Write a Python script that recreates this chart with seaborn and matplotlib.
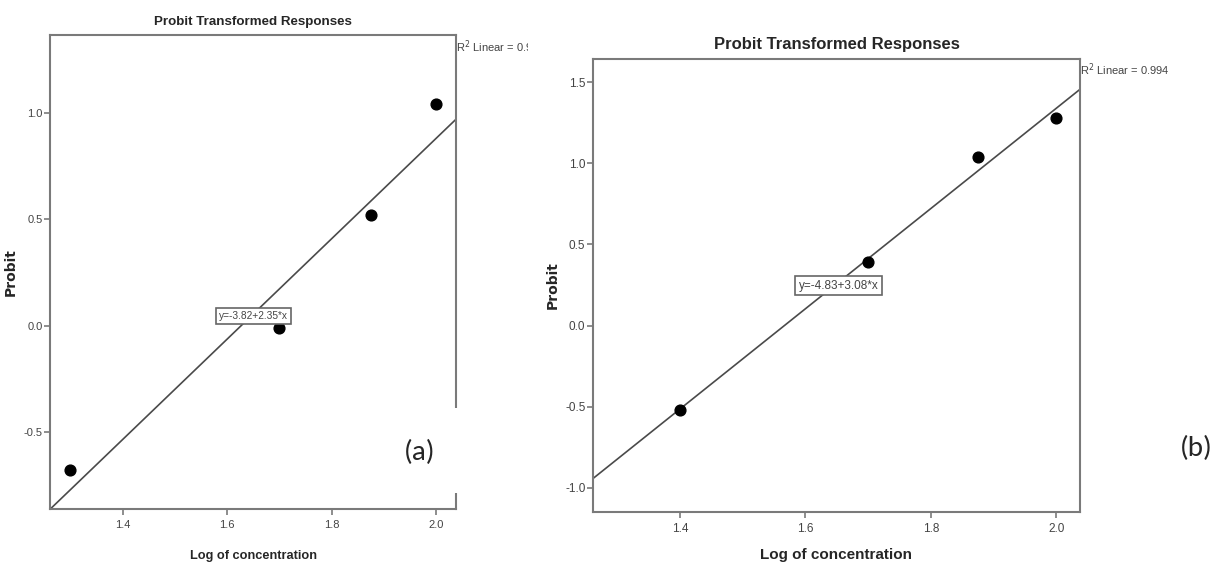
import matplotlib
matplotlib.use("Agg")
import matplotlib.pyplot as plt
from matplotlib.patches import Rectangle
from matplotlib.transforms import Bbox, TransformedBbox
from matplotlib import font_manager
import numpy as np
import pandas as pd
import seaborn as sns

# dados
log_conc_a = [1.3, 1.7, 1.875, 2.0]
probit_a = [-0.68, -0.01, 0.52, 1.04]
log_conc_b = [1.4, 1.7, 1.875, 2.0]
probit_b = [-0.52, 0.39, 1.04, 1.28]

eq_a = "y=-3.82+2.35*x"
eq_b = "y=-4.83+3.08*x"
r2_a = "R$^2$ Linear = 0.959"
r2_b = "R$^2$ Linear = 0.994"

xticks = [1.4, 1.6, 1.8, 2.0]
yticks_a = [-0.5, 0.0, 0.5, 1.0]
yticks_b = [-1.0, -0.5, 0.0, 0.5, 1.0, 1.5]

sns.set_theme(style="white")
installed = {f.name for f in font_manager.fontManager.ttflist}
narrow = "Liberation Sans Narrow" if "Liberation Sans Narrow" in installed else "Liberation Sans"
plt.rcParams['font.family'] = ["Liberation Sans", "DejaVu Sans"]

fig = plt.figure(figsize=(12.26, 5.62), dpi=100)
ax_a = fig.add_axes([0.0408, 0.0943, 0.3312, 0.8434])
ax_b = fig.add_axes([0.4837, 0.0890, 0.3972, 0.8060])

spine_col = "#7a7a7a"
line_col = "#4a4a4a"


def painel(ax, x, y, ylim, yticks, eq, eq_pos, r2, fs, xpad):
    # fs = tamanhos de fonte (ticks, titulo, xlabel, equacao)
    ax.set_xlim(1.261, 2.038)
    ax.set_ylim(*ylim)
    df = pd.DataFrame({"x": x, "y": y})
    sns.regplot(data=df, x="x", y="y", ax=ax, ci=None, truncate=False,
                scatter_kws=dict(s=60, color="black", edgecolor="black", alpha=1, zorder=3),
                line_kws=dict(color=line_col, lw=1.2))
    ax.set_xlim(1.261, 2.038)
    ax.set_ylim(*ylim)
    ax.set_xticks(xticks)
    ax.set_xticklabels([f"{v:.1f}" for v in xticks], family=narrow)
    ax.set_yticks(yticks)
    ax.set_yticklabels([f"{v:.1f}" for v in yticks], family=narrow)
    ax.tick_params(axis="both", direction="out", length=4, width=1.2,
                   color=spine_col, labelsize=fs[0], labelcolor="#444444",
                   bottom=True, left=True, pad=4)
    ax.tick_params(axis="y", pad=1.5)
    for s in ax.spines.values():
        s.set_color(spine_col)
        s.set_linewidth(1.5)
    ax.set_title("Probit Transformed Responses", family=narrow,
                 fontsize=fs[1], fontweight="bold", pad=7)
    ax.set_xlabel("Log of concentration", fontsize=fs[2], fontweight="bold", labelpad=xpad)
    ax.set_ylabel("Probit", fontsize=10, fontweight="bold", family="DejaVu Sans", labelpad=4)
    ax.text(eq_pos[0], eq_pos[1], eq, family=narrow, fontsize=fs[3], color="#444444",
            ha="center", va="center", zorder=4,
            bbox=dict(boxstyle="square,pad=0.3", fc="white", ec="#666666", lw=1.2))
    t = ax.text(1.0, 0.976, r2, transform=ax.transAxes, family=narrow,
                fontsize=8, color="#444444", ha="left", va="center")
    return t


t_a = painel(ax_a, log_conc_a, probit_a, (-0.861, 1.366), yticks_a,
             eq_a, (1.65, 0.047), r2_a, (8, 9.6, 9.2, 7.3), 14.5)
# texto cortado na borda direita do painel (a)
t_a.set_clip_box(TransformedBbox(Bbox([[0, 0], [528 / 1226, 1]]), fig.transFigure))
t_a.set_clip_on(True)

painel(ax_b, log_conc_b, probit_b, (-1.148, 1.642), yticks_b,
       eq_b, (1.653, 0.246), r2_b, (8.5, 12, 11, 8.5), 9)

# rotulos (a) e (b), com fundo branco cobrindo a borda
ax_a.add_patch(Rectangle((0.95, 0.034), 0.2, 0.18, transform=ax_a.transAxes,
                         fc="white", ec="none", clip_on=False, zorder=5))
fig.text(420 / 1226, 1 - 452 / 562, "(a)", fontsize=21, family=["Carlito", "Open Sans", "DejaVu Sans"],
         ha="center", va="center", zorder=6)
fig.text(1196 / 1226, 1 - 448 / 562, "(b)", fontsize=21, family=["Carlito", "Open Sans", "DejaVu Sans"],
         ha="center", va="center")

fig.savefig("out.png", dpi=100, facecolor="white")
